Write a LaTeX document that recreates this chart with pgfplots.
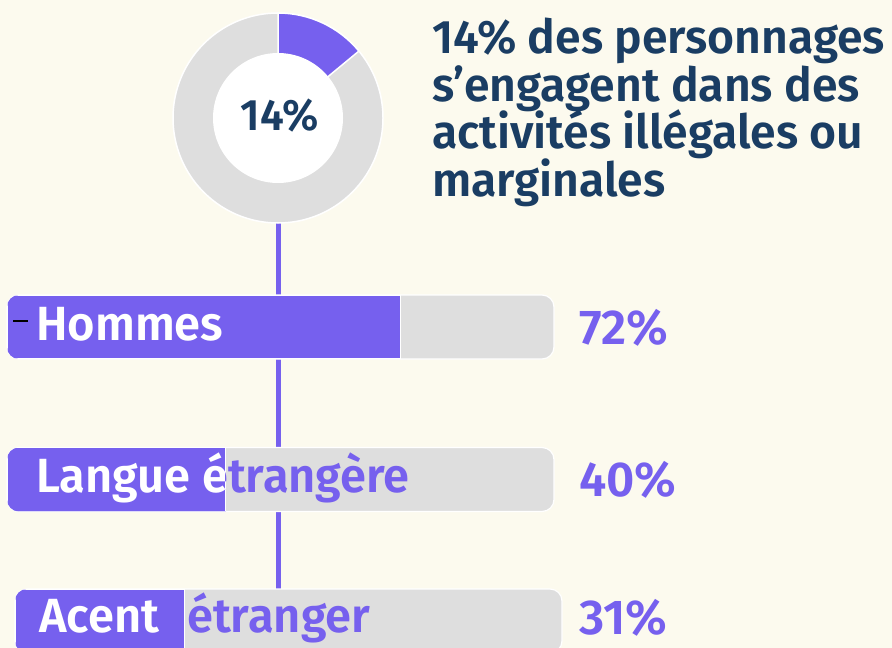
\documentclass[border=0pt]{standalone}
\usepackage{pgfplots}
\pgfplotsset{compat=1.18}
\usepackage{fontspec}
\setmainfont{Fira Sans}[UprightFont={* SemiBold}]
\newfontfamily\fTitle{Fira Sans}[UprightFont={* SemiBold}, FakeStretch=0.985]
\newfontfamily\fDonut{Fira Sans}[UprightFont={* SemiBold}, FakeStretch=0.97]
\newfontfamily\fLbl{Fira Sans}[UprightFont={* SemiBold}, FakeStretch=0.98]
\newfontfamily\fPct{Fira Sans}[UprightFont={* SemiBold}, FakeStretch=1.0]
\definecolor{bgc}{HTML}{FCFAEE}
\definecolor{pur}{HTML}{7660EE}
\definecolor{gry}{HTML}{DEDEDE}
\definecolor{navy}{HTML}{1A3D63}
\def\share{14}
\def\vA{72}\def\vB{40}\def\vC{31}
\begin{document}
\begin{tikzpicture}
\fill[bgc] (0,0) rectangle (892pt,648pt);
% ---------- canvas axis (pixel units) ----------
\begin{axis}[at={(0pt,0pt)}, anchor=south west, scale only axis,
  width=892pt, height=648pt, xmin=0, xmax=892, ymin=0, ymax=648,
  y dir=reverse, hide axis, clip=false]
\addplot[pur, line width=5pt] coordinates {(278,220) (278,648)};
% donut
\fill[gry, draw=white, line width=1.5pt] (axis cs:278,118) circle[radius=105pt];
\fill[pur, draw=white, line width=1.5pt] (axis cs:278,118) -- ++(90:105pt)
   arc[start angle=90, delta angle=-3.6*\share, radius=105pt] -- cycle;
\fill[white] (axis cs:278,118) circle[radius=65pt];
\node[anchor=base, font=\fDonut\fontsize{44}{48}\selectfont, text=navy, inner sep=0pt]
   at (axis cs:279.7,130) {\share\%};
% title
\begin{scope}[every node/.style={anchor=base west, inner sep=0pt, text=navy,
    font=\fTitle\fontsize{47}{48}\selectfont}]
\node at (axis cs:432,53.3) {14\% des personnages};
\node at (axis cs:432,101) {s’engagent dans des};
\node at (axis cs:432,148.5) {activités illégales ou};
\node at (axis cs:432,196.5) {marginales};
\end{scope}
% percentages
\begin{scope}[every node/.style={anchor=base west, inner sep=0pt, text=pur,
    font=\fPct\fontsize{49}{50}\selectfont}]
\node at (axis cs:579,344) {\vA\%};
\node at (axis cs:579,496) {\vB\%};
\node at (axis cs:579,634) {\vC\%};
\end{scope}
\coordinate (lA) at (axis cs:36,341);
\coordinate (lB) at (axis cs:36,493);
\coordinate (lC) at (axis cs:39,633);
\coordinate (lD) at (axis cs:187,633);
\end{axis}
% ---------- bars axis (x in percent) ----------
\begin{axis}[at={(7pt,0pt)}, anchor=south west, scale only axis,
  width=547pt, height=648pt, xmin=0, xmax=100, ymin=0, ymax=648,
  y dir=reverse, hide axis, clip=false]
\addplot[xbar, bar width=64pt, bar shift=0pt, fill=gry, draw=white, line width=1.2pt,
   rounded corners=12pt] coordinates {(100,327) (100,479.5)};
\addplot[xbar, bar width=64pt, bar shift=0pt, fill=gry, draw=white, line width=1.2pt,
   rounded corners=12pt, xshift=8pt] coordinates {(100,621)};
\begin{scope}
\clip[rounded corners=12pt] (axis cs:0,295) rectangle (axis cs:100,359);
\addplot[xbar, bar width=64pt, bar shift=0pt, fill=pur, draw=white, line width=1.2pt]
   coordinates {(\vA,327)};
\end{scope}
\begin{scope}
\clip[rounded corners=12pt] (axis cs:0,447.5) rectangle (axis cs:100,511.5);
\addplot[xbar, bar width=64pt, bar shift=0pt, fill=pur, draw=white, line width=1.2pt]
   coordinates {(\vB,479.5)};
\end{scope}
\begin{scope}
\clip[rounded corners=12pt, xshift=8pt] (axis cs:0,589) rectangle (axis cs:100,653);
\addplot[xbar, bar width=64pt, bar shift=0pt, fill=pur, draw=white, line width=1.2pt,
   xshift=8pt] coordinates {(\vC,621)};
\end{scope}
\addplot[black, line width=1.5pt] coordinates {(1.1,321) (3.8,321)};
\coordinate (sA) at (axis cs:\vA,0);
\coordinate (sB) at (axis cs:\vB,0);
\coordinate[xshift=8pt] (sC) at (axis cs:\vC,0);
\end{axis}
% ---------- bar labels, white over purple, purple over grey ----------
\tikzset{lbl/.style={anchor=base west, inner sep=0pt, font=\fLbl\fontsize{48}{50}\selectfont}}
\begin{scope}\clip (-5pt,-5pt) rectangle (sA |- 0pt,700pt);
\node[lbl, text=white] at (lA) {Hommes};\end{scope}
\begin{scope}\clip (sA |- 0pt,-5pt) rectangle (900pt,700pt);
\node[lbl, text=pur] at (lA) {Hommes};\end{scope}
\begin{scope}\clip (-5pt,-5pt) rectangle (sB |- 0pt,700pt);
\node[lbl, text=white] at (lB) {Langue étrangère};\end{scope}
\begin{scope}\clip (sB |- 0pt,-5pt) rectangle (900pt,700pt);
\node[lbl, text=pur] at (lB) {Langue étrangère};\end{scope}
\begin{scope}\clip (-5pt,-5pt) rectangle (sC |- 0pt,700pt);
\node[lbl, text=white] at (lC) {Acent};
\node[lbl, text=white] at (lD) {étranger};\end{scope}
\begin{scope}\clip (sC |- 0pt,-5pt) rectangle (900pt,700pt);
\node[lbl, text=pur] at (lC) {Acent};
\node[lbl, text=pur] at (lD) {étranger};\end{scope}
\pgfresetboundingbox
\path[use as bounding box] (0,0) rectangle (892pt,648pt);
\end{tikzpicture}
\end{document}
